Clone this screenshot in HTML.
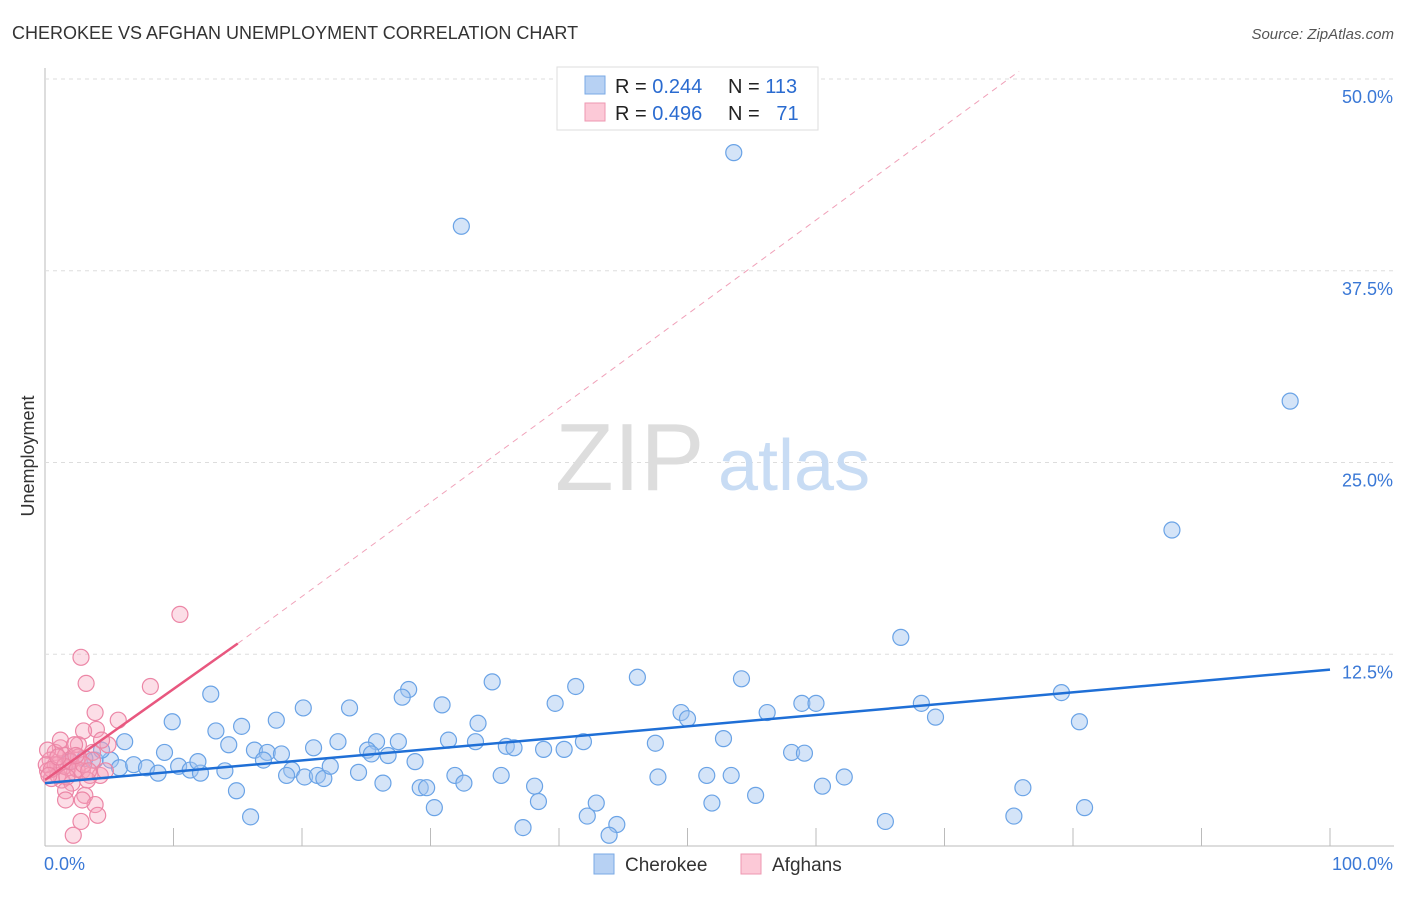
<!DOCTYPE html>
<html><head><meta charset="utf-8"><style>
body{margin:0;background:#fff;font-family:"Liberation Sans",sans-serif;}
svg text{font-family:"Liberation Sans",sans-serif;}
</style></head><body>
<svg id="chart" width="1406" height="892">
<text x="12" y="39" font-size="18" fill="#333">CHEROKEE VS AFGHAN UNEMPLOYMENT CORRELATION CHART</text>
<text x="1394" y="39" font-size="15" fill="#555" font-style="italic" text-anchor="end">Source: ZipAtlas.com</text>
<text x="34" y="456" font-size="18" fill="#333" text-anchor="middle" transform="rotate(-90 34 456)">Unemployment</text>
<g id="grid"></g>
<text x="555" y="490" font-size="96" fill="#ddd" font-family="Liberation Serif">ZIP</text>
<text x="718" y="490" font-size="72" fill="#c8dcf4">atlas</text>
<g id="marks"></g>
<g>
<rect x="557" y="67" width="261" height="63" fill="#fff" stroke="#ddd"/>
<rect x="585" y="76" width="20" height="18" fill="#b7d1f3" stroke="#7aa9e6"/>
<rect x="585" y="103" width="20" height="18" fill="#fcc9d7" stroke="#ee97b0"/>
<text x="615" y="93" font-size="20" fill="#222">R = <tspan fill="#2a6bd0">0.244</tspan></text>
<text x="728" y="93" font-size="20" fill="#222">N = <tspan fill="#2a6bd0">113</tspan></text>
<text x="615" y="120" font-size="20" fill="#222">R = <tspan fill="#2a6bd0">0.496</tspan></text>
<text x="728" y="120" font-size="20" fill="#222">N = <tspan fill="#2a6bd0">&#160; 71</tspan></text>
</g>
<g>
<rect x="594" y="854" width="20" height="20" fill="#b7d1f3" stroke="#7aa9e6"/>
<text x="625" y="871" font-size="19" fill="#333">Cherokee</text>
<rect x="741" y="854" width="20" height="20" fill="#fcc9d7" stroke="#ee97b0"/>
<text x="772" y="871" font-size="19" fill="#333">Afghans</text>
</g>
</svg>
<script>
const yTicks=[12.5,25,37.5,50];
const yTickLabels=["12.5%","25.0%","37.5%","50.0%"];
const xTickLabels=["0.0%","100.0%"];
const blueX=[53.6,32.4,96.9,87.7,66.6,12.9,28.3,34.8,41.3,46.1,54.2,79.1,58.9,60.0,68.2,39.7,30.9,23.7,20.1,27.8,9.9,18.0,15.3,13.3,33.7,49.5,50.0,56.2,69.3,80.5,6.2,9.3,14.3,16.3,17.3,18.4,20.9,22.8,25.8,27.5,31.4,33.5,35.9,36.5,38.8,40.4,41.9,47.5,52.8,58.1,59.1,25.1,26.7,28.8,25.4,3.9,5.1,5.8,6.9,7.9,8.8,10.4,11.3,12.1,11.9,14.0,17.0,19.2,18.8,20.2,21.2,21.7,22.2,24.4,31.9,32.6,35.5,47.7,51.5,53.4,26.3,29.2,29.7,38.1,14.9,38.4,42.9,30.3,51.9,55.3,60.5,62.2,76.1,80.9,16.0,42.2,44.5,37.2,43.9,65.4,75.4,1.9,3.1,4.4];
const blueY=[45.2,40.4,29.0,20.6,13.6,9.9,10.2,10.7,10.4,11.0,10.9,10.0,9.3,9.3,9.3,9.3,9.2,9.0,9.0,9.7,8.1,8.2,7.8,7.5,8.0,8.7,8.3,8.7,8.4,8.1,6.8,6.1,6.6,6.25,6.1,6.0,6.4,6.8,6.8,6.8,6.9,6.8,6.5,6.4,6.3,6.3,6.8,6.7,7.0,6.1,6.05,6.25,5.9,5.5,6.0,5.6,5.6,5.1,5.3,5.1,4.75,5.2,4.95,4.75,5.5,4.9,5.6,4.95,4.6,4.5,4.6,4.4,5.2,4.8,4.6,4.1,4.6,4.5,4.6,4.6,4.1,3.8,3.8,3.9,3.6,2.9,2.8,2.5,2.8,3.3,3.9,4.5,3.8,2.5,1.9,1.95,1.4,1.2,0.7,1.6,1.95,5.5,5.7,6.25];
const pinkX=[10.5,2.8,3.2,8.2,3.9,5.7,4.0,3.0,2.6,1.2,0.8,1.6,1.9,0.4,0.2,1.0,1.8,2.3,2.9,3.5,4.3,4.7,3.3,1.3,2.1,0.5,1.6,3.1,3.9,2.9,1.6,4.1,2.8,2.2,4.9,4.4,3.7,1.2,2.3,0.8,0.2,1.0,3.7,2.6,0.1,0.5,1.5,2.0,2.5,1.0,3.0,0.3,1.7,2.4,3.4];
const pinkY=[15.1,12.3,10.6,10.4,8.7,8.2,7.6,7.5,6.6,6.4,6.1,5.9,5.6,5.6,4.9,5.3,5.1,4.8,4.9,4.6,4.6,4.9,4.3,4.3,4.1,4.4,3.6,3.3,2.7,3.0,3.0,2.0,1.6,0.7,6.6,6.9,6.1,6.9,6.6,5.3,6.25,4.6,5.6,5.8,5.3,5.0,5.2,5.5,5.0,5.8,5.3,4.6,4.5,5.9,4.9];
const blueTrend=[[0,4.1],[100,11.5]];
const pinkTrend=[[0,4.3],[15,13.2]];
const pinkDash=[[15,13.2],[75.8,50.5]];

const X0=45,X1=1330,Y0=846,Y50=79;
const sx=v=>X0+(X1-X0)*v/100;
const sy=v=>Y0-(Y0-Y50)*v/50;
const NS="http://www.w3.org/2000/svg";
function mk(tag,attrs,parent){const e=document.createElementNS(NS,tag);for(const k in attrs)e.setAttribute(k,attrs[k]);parent.appendChild(e);return e;}
const grid=document.getElementById('grid');
const marks=document.getElementById('marks');
let ax=mk('line',{x1:45,y1:68,x2:45,y2:846,stroke:'#bbb'},grid);


let bx=mk('line',{x1:45,y1:846,x2:1394,y2:846,stroke:'#bbb'},grid);


for(let i=1;i<=10;i++){const x=sx(i*10);let t=mk('line',{x1:x,y1:828,x2:x,y2:846,stroke:'#bbb'},grid);

}
yTicks.forEach((v,i)=>{const y=sy(v);let g=mk('line',{x1:45,y1:y,x2:1394,y2:y,stroke:'#ddd','stroke-dasharray':'4 4'},grid);


let t=mk('text',{x:1393,y:y+24,'font-size':18,fill:'#3a78d6','text-anchor':'end'},grid);t.textContent=yTickLabels[i];

});
let xl=mk('text',{x:44,y:870,'font-size':18,fill:'#3a78d6'},grid);xl.textContent=xTickLabels[0];


let xr=mk('text',{x:1393,y:870,'font-size':18,fill:'#3a78d6','text-anchor':'end'},grid);xr.textContent=xTickLabels[1];


blueX.forEach((v,i)=>{let c=mk('circle',{cx:sx(v),cy:sy(blueY[i]),r:8,fill:'rgba(160,196,240,0.45)',stroke:'#6aa3e6','stroke-width':1.2},marks);

});
pinkX.forEach((v,i)=>{let c=mk('circle',{cx:sx(v),cy:sy(pinkY[i]),r:8,fill:'rgba(245,160,185,0.35)',stroke:'#ec86a6','stroke-width':1.2},marks);

});
let pd=mk('line',{x1:sx(pinkDash[0][0]),y1:sy(pinkDash[0][1]),x2:sx(pinkDash[1][0]),y2:sy(pinkDash[1][1]),stroke:'#f0a0b8','stroke-width':1,'stroke-dasharray':'6 5'},marks);


let bl=mk('line',{x1:sx(blueTrend[0][0]),y1:sy(blueTrend[0][1]),x2:sx(blueTrend[1][0]),y2:sy(blueTrend[1][1]),stroke:'#1f6fd6','stroke-width':2.5},marks);


let pl=mk('line',{x1:sx(pinkTrend[0][0]),y1:sy(pinkTrend[0][1]),x2:sx(pinkTrend[1][0]),y2:sy(pinkTrend[1][1]),stroke:'#e8577f','stroke-width':2.5},marks);


</script>
</body></html>
